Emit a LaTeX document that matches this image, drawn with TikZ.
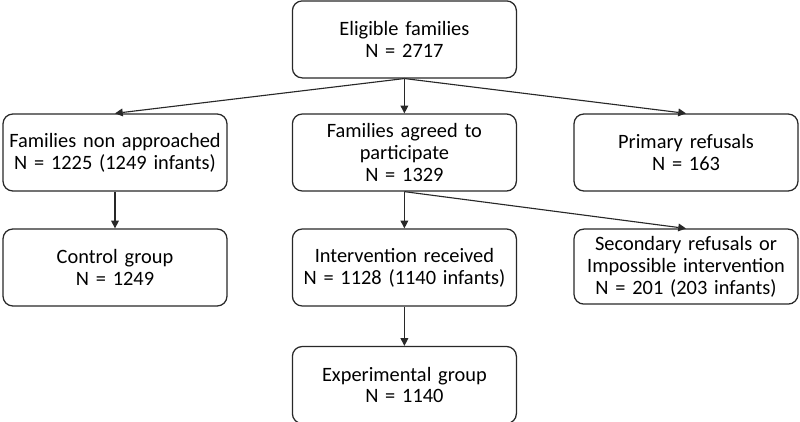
\documentclass[tikz,border=0pt]{standalone}
\usepackage{fontspec}
\setmainfont{Carlito}
\usepackage{tikz}
\usetikzlibrary{arrows.meta,positioning}
\definecolor{boxline}{RGB}{40,40,40}
\tikzset{
  grp/.style={rectangle,draw=boxline,line width=0.9pt,fill=white,text width=5.45cm,align=center,
    minimum width=5.6cm,minimum height=1.925cm,rounded corners=7pt,inner sep=2pt,
    font=\fontsize{14.5}{15.6}\selectfont},
  arr/.style={-{Triangle[length=5.5pt,width=5.5pt]},line width=0.8pt,color=boxline}
}
\begin{document}
\begin{tikzpicture}
    \useasboundingbox (0,0) rectangle (20,10.525);
    % Top
    \node[grp] (elig) at (10.11, 9.54) {Eligible families\\N = 2717};

    % Second row
    \node[grp] (nonapp) at (2.875, 6.7125) {Families non approached\\N = 1225 (1249 infants)};
    \node[grp] (agreed) at (10.11, 6.7125) {Families agreed to\\participate\\N = 1329};
    \node[grp] (primref) at (17.15, 6.7125) {Primary refusals\\N = 163};

    % Third row
    \node[grp] (control) at (2.875, 3.8375) {Control group\\N = 1249};
    \node[grp] (interv) at (10.11, 3.8375) {Intervention received\\N = 1128 (1140 infants)};
    \node[grp,minimum height=1.875cm] (secref) at (17.15, 3.86) {Secondary refusals or\\Impossible intervention\\N = 201 (203 infants)};

    % Bottom
    \node[grp] (exper) at (10.11, 0.9) {Experimental group\\N = 1140};

    % Arrows
    \draw[arr] (elig.south) -- (nonapp.north);
    \draw[arr] (elig.south) -- (agreed.north);
    \draw[arr] (elig.south) -- (primref.north);
    \draw[arr] (nonapp) -- (control);
    \draw[arr] (agreed.south) -- (interv.north);
    \draw[arr] (agreed.south) -- (secref.north);
    \draw[arr] (interv) -- (exper);
  \end{tikzpicture}
\end{document}
